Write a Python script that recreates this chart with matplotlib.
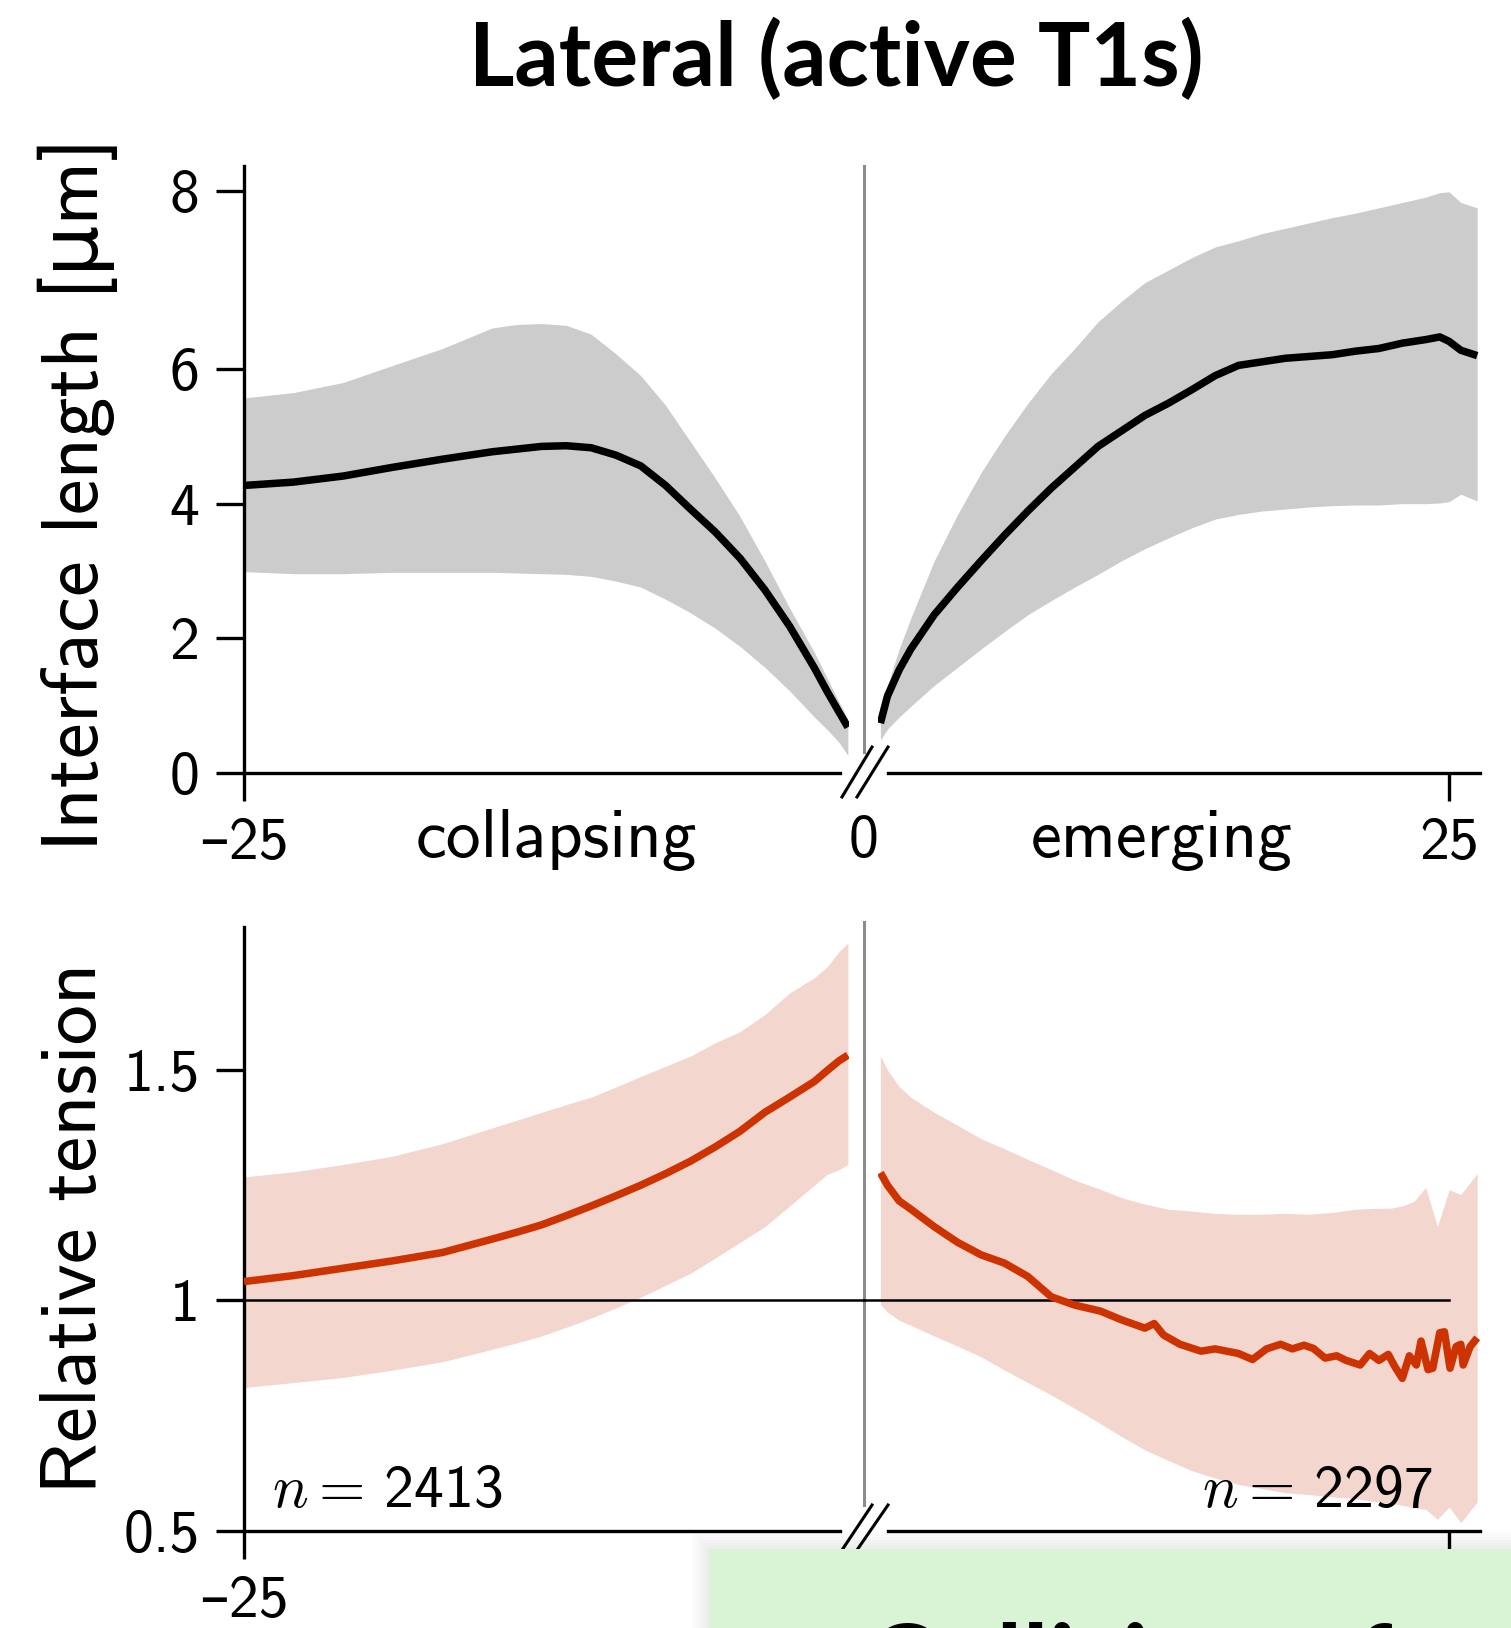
import numpy as np
import matplotlib
matplotlib.use("Agg")
import matplotlib.pyplot as plt
from matplotlib.patches import Rectangle

plt.rcParams["mathtext.fontset"] = "cm"
SANS = ["cmss10", "DejaVu Sans"]

# ---------------- data ----------------
# collapsing interfaces (time before T1, min)
t_collapse = [-25, -23, -21, -19, -17, -15, -14, -13, -12, -11, -10, -9, -8, -7, -6, -5, -4, -3, -2, -1.5, -1, -0.65]
len_collapse_mean = [4.27, 4.32, 4.41, 4.54, 4.66, 4.77, 4.81, 4.85, 4.86, 4.83, 4.72, 4.56, 4.27, 3.92,
                     3.58, 3.19, 2.72, 2.18, 1.56, 1.22, 0.90, 0.68]
len_collapse_hi = [5.57, 5.65, 5.80, 6.04, 6.23, 6.46, 6.50, 6.51, 6.49, 6.39, 6.17, 5.90, 5.46, 4.92,
                   4.38, 3.81, 3.15, 2.45, 1.79, 1.42, 1.05, 0.80]
len_collapse_lo = [2.99, 2.96, 2.96, 2.98, 2.98, 2.98, 2.97, 2.96, 2.95, 2.92, 2.85, 2.76, 2.58, 2.38,
                   2.15, 1.88, 1.57, 1.22, 0.83, 0.65, 0.45, 0.26]

ten_collapse_mean = [1.041, 1.054, 1.070, 1.086, 1.104, 1.133, 1.148, 1.164, 1.184, 1.205, 1.227, 1.250,
                     1.275, 1.302, 1.333, 1.367, 1.408, 1.441, 1.475, 1.498, 1.520, 1.532]
ten_collapse_hi = [1.268, 1.279, 1.295, 1.313, 1.340, 1.374, 1.391, 1.408, 1.425, 1.441, 1.463, 1.486,
                   1.508, 1.530, 1.559, 1.583, 1.620, 1.667, 1.700, 1.723, 1.757, 1.775]
ten_collapse_lo = [0.811, 0.822, 0.833, 0.849, 0.867, 0.894, 0.908, 0.923, 0.942, 0.962, 0.984, 1.007,
                   1.033, 1.059, 1.092, 1.126, 1.160, 1.205, 1.250, 1.273, 1.284, 1.295]

# emerging interfaces (time after T1, min)
t_emerge = [0.7, 1, 1.5, 2, 3, 4, 5, 6, 7, 8, 9, 10, 11, 12, 13, 14, 15, 16, 17, 18, 19, 20,
            21, 22, 23, 24, 24.6, 25, 25.5, 26.2]
len_emerge_mean = [0.74, 1.14, 1.53, 1.84, 2.35, 2.76, 3.15, 3.53, 3.89, 4.23, 4.54, 4.85, 5.08, 5.31,
                   5.49, 5.69, 5.90, 6.04, 6.08, 6.12, 6.14, 6.16, 6.20, 6.23, 6.29, 6.33, 6.36, 6.31, 6.21, 6.15]
len_emerge_hi = [0.91, 1.30, 1.84, 2.30, 3.15, 3.84, 4.46, 5.00, 5.49, 5.93, 6.23, 6.53, 6.76, 6.97,
                 7.11, 7.25, 7.37, 7.44, 7.52, 7.58, 7.64, 7.70, 7.75, 7.81, 7.87, 7.93, 7.98, 7.99, 7.87, 7.81]
len_emerge_lo = [0.49, 0.65, 0.83, 0.99, 1.30, 1.57, 1.84, 2.10, 2.35, 2.56, 2.76, 2.95, 3.15, 3.33,
                 3.49, 3.64, 3.77, 3.84, 3.89, 3.92, 3.95, 3.97, 3.98, 3.98, 4.00, 4.00, 4.01, 4.03, 4.14, 4.04]

t_emerge_ten_band = [0.7, 1, 1.5, 2, 3, 4, 5, 6, 7, 8, 9, 10, 11, 12, 13, 14, 15, 16, 17, 18, 19, 20,
                     21, 22, 22.5, 23, 23.5, 24, 24.5, 25, 25.5, 26.2]
ten_emerge_hi = [1.530, 1.500, 1.464, 1.441, 1.408, 1.380, 1.351, 1.329, 1.306, 1.284, 1.261, 1.243,
                 1.223, 1.209, 1.198, 1.194, 1.189, 1.187, 1.187, 1.189, 1.187, 1.191, 1.198, 1.200,
                 1.200, 1.205, 1.215, 1.245, 1.160, 1.240, 1.230, 1.275]
ten_emerge_lo = [0.991, 0.975, 0.957, 0.946, 0.923, 0.901, 0.878, 0.849, 0.822, 0.795, 0.766, 0.736,
                 0.705, 0.676, 0.653, 0.631, 0.615, 0.601, 0.592, 0.583, 0.579, 0.574, 0.570, 0.563,
                 0.560, 0.556, 0.550, 0.547, 0.525, 0.552, 0.518, 0.563]

t_emerge_ten_mean = [0.7, 1, 1.5, 2, 3, 4, 5, 6, 7, 8, 9, 10.1, 11, 12, 12.4, 12.8, 13.5, 14.4, 15, 15.5,
                     16, 16.6, 17.2, 17.8, 18.3, 18.8, 19.2, 19.7, 20.2, 20.6, 21.2, 21.6, 22.0, 22.4,
                     22.7, 23.0, 23.3, 23.6, 23.8, 24.1, 24.3, 24.6, 24.8, 25.04, 25.3, 25.5, 25.6,
                     25.9, 26.2]
ten_emerge_mean = [1.277, 1.250, 1.216, 1.198, 1.160, 1.126, 1.099, 1.081, 1.052, 1.008, 0.990, 0.977,
                   0.958, 0.940, 0.950, 0.925, 0.905, 0.890, 0.895, 0.890, 0.885, 0.872, 0.895, 0.905,
                   0.895, 0.903, 0.896, 0.875, 0.880, 0.870, 0.860, 0.885, 0.870, 0.883, 0.855, 0.831,
                   0.880, 0.860, 0.912, 0.850, 0.853, 0.930, 0.932, 0.853, 0.900, 0.905, 0.860,
                   0.900, 0.919]

n_collapse = 2413
n_emerge = 2297

len_ticks = [0, 2, 4, 6, 8]
ten_ticks = [0.5, 1, 1.5]
ten_tick_labels = ["0.5", "1", "1.5"]

# ---------------- styling ----------------
GRAY_BAND = "#cccccc"
RED = "#cc3300"
RED_BAND = "#f3d6ce"
DIVIDER = "#8c8c8c"
LW_SPINE = 2.4
LW_MEAN = 5.4
TICK_FS = 43
WORD_FS = 50
LABEL_FS = 58

W, H = 1511, 1628
fig = plt.figure(figsize=(W / 100, H / 100), dpi=100)


def px_box(x0, x1, ytop, ybot):
    return [x0 / W, 1 - ybot / H, (x1 - x0) / W, (ybot - ytop) / H]


ax_tl = fig.add_axes(px_box(244, 849, 166, 773))
ax_tr = fig.add_axes(px_box(878, 1480, 166, 773))
ax_bl = fig.add_axes(px_box(244, 849, 927, 1531))
ax_br = fig.add_axes(px_box(878, 1480, 927, 1531))

# length axis is stretched above 6 µm
K_UP = 1.322


def fwd(y):
    y = np.asarray(y, dtype=float)
    return np.where(y <= 6, y, 6 + (y - 6) * K_UP)


def inv(v):
    v = np.asarray(v, dtype=float)
    return np.where(v <= 6, v, 6 + (v - 6) / K_UP)


for ax in (ax_tl, ax_tr):
    ax.set_yscale("function", functions=(fwd, inv))
    ax.set_ylim(0, 8.28)
for ax in (ax_bl, ax_br):
    ax.set_ylim(0.5, 1.81)
for ax in (ax_tl, ax_bl):
    ax.set_xlim(-25, -0.605)
for ax in (ax_tr, ax_br):
    ax.set_xlim(0.598, 26.32)

for ax in (ax_tl, ax_tr, ax_bl, ax_br):
    ax.patch.set_alpha(0)
    ax.spines["top"].set_visible(False)
    ax.spines["right"].set_visible(False)
    for s in ax.spines.values():
        s.set_linewidth(LW_SPINE)
    ax.tick_params(direction="out", length=20, width=LW_SPINE, pad=12)

MINUS = "\u2013"
for ax in (ax_tr, ax_br):
    ax.spines["left"].set_visible(False)
    ax.set_yticks([])
    ax.spines["bottom"].set_bounds(1.03, 26.32)
    ax.set_xticks([25])
    ax.set_xticklabels(["25"], fontfamily=SANS, fontsize=TICK_FS)
for ax in (ax_tl, ax_bl):
    ax.spines["bottom"].set_bounds(-25, -0.97)
    ax.set_xticks([-25])
    ax.set_xticklabels([MINUS + "25"], fontfamily=SANS, fontsize=TICK_FS)

ax_tl.set_yticks(len_ticks)
ax_tl.set_yticklabels([str(v) for v in len_ticks], fontfamily=SANS, fontsize=TICK_FS)
ax_tl.yaxis.set_minor_locator(matplotlib.ticker.NullLocator())
ax_bl.set_yticks(ten_ticks)
ax_bl.set_yticklabels(ten_tick_labels, fontfamily=SANS, fontsize=TICK_FS)

# ---------------- bands and means ----------------
ax_tl.fill_between(t_collapse, len_collapse_lo, len_collapse_hi, color=GRAY_BAND, lw=0, zorder=1)
ax_tl.plot(t_collapse, len_collapse_mean, color="black", lw=LW_MEAN, zorder=3, solid_capstyle="butt")
ax_tr.fill_between(t_emerge, len_emerge_lo, len_emerge_hi, color=GRAY_BAND, lw=0, zorder=1)
ax_tr.plot(t_emerge, len_emerge_mean, color="black", lw=LW_MEAN, zorder=3, solid_capstyle="butt")

ax_bl.fill_between(t_collapse, ten_collapse_lo, ten_collapse_hi, color=RED_BAND, lw=0, zorder=1)
ax_bl.plot([-25, 0], [1, 1], color="black", lw=1.8, zorder=2, clip_on=False)
ax_bl.plot(t_collapse, ten_collapse_mean, color=RED, lw=LW_MEAN, zorder=3, solid_capstyle="butt")
ax_br.fill_between(t_emerge_ten_band, ten_emerge_lo, ten_emerge_hi, color=RED_BAND, lw=0, zorder=1)
ax_br.plot([0, 25], [1, 1], color="black", lw=1.8, zorder=2, clip_on=False)
ax_br.plot(t_emerge_ten_mean, ten_emerge_mean, color=RED, lw=LW_MEAN, zorder=3, solid_capstyle="butt")

# ---------------- T1 divider and axis breaks ----------------
ax_tl.axvline(0, ymin=0.0346, ymax=1.0, color=DIVIDER, lw=2.2, clip_on=False, zorder=0)
ax_bl.axvline(0, ymin=0.043, ymax=1.008, color=DIVIDER, lw=2.2, clip_on=False, zorder=0)

for ax, (yb, yt) in ((ax_tl, (-0.0395, 0.0428)), (ax_bl, (-0.0315, 0.043))):
    tr = ax.get_xaxis_transform()
    ax.plot([-0.887, 0.323], [yb, yt], color="black", lw=2.2, transform=tr, clip_on=False)
    ax.plot([-0.282, 0.968], [yb, yt], color="black", lw=2.2, transform=tr, clip_on=False)

# ---------------- labels ----------------
tr_l = ax_tl.get_xaxis_transform()
tr_r = ax_tr.get_xaxis_transform()
y_base = (773 - 857) / 607
ax_tl.text(-12.42, y_base, "collapsing", transform=tr_l, ha="center", va="baseline",
           fontfamily=SANS, fontsize=WORD_FS)
ax_tl.text(0, y_base, "0", transform=tr_l, ha="center", va="baseline",
           fontfamily=SANS, fontsize=TICK_FS)
ax_tr.text(12.7, y_base, "emerging", transform=tr_r, ha="center", va="baseline",
           fontfamily=SANS, fontsize=WORD_FS)

ax_bl.text(0.046, 0.04, r"$n=\,$" + str(n_collapse), transform=ax_bl.transAxes,
           ha="left", va="baseline", fontfamily=SANS, fontsize=TICK_FS, zorder=4)
ax_br.text(0.922, 0.04, r"$n=\,$" + str(n_emerge), transform=ax_br.transAxes,
           ha="right", va="baseline", fontfamily=SANS, fontsize=TICK_FS, zorder=4)

fig.text(78 / W, 1 - 494 / H, "Interface length [\u03bcm]", rotation=90, ha="center",
         va="center", fontfamily=SANS, fontsize=LABEL_FS)
fig.text(76 / W, 1 - 1228 / H, "Relative tension", rotation=90, ha="center",
         va="center", fontfamily=SANS, fontsize=LABEL_FS)

fig.text(836 / W, 1 - 59 / H, "Lateral (active T1s)", ha="center", va="center",
         fontfamily=["Lato", "DejaVu Sans"], fontweight="bold", fontsize=63)

# ---------------- caption card overlapping the lower right ----------------
for i in range(6):
    d = 3 * (i + 1)
    fig.patches.append(Rectangle(((709 - d) / W, 0), (W - 709 + d) / W, (H - 1549 + d) / H,
                                 transform=fig.transFigure, facecolor="black",
                                 alpha=0.012, lw=0, zorder=9))
fig.patches.append(Rectangle((709 / W, 0), (W - 709) / W, (H - 1549) / H,
                             transform=fig.transFigure, facecolor="#d9f4d5", lw=0, zorder=10))
fig.text(866 / W, 1 - 1700 / H, "Collision of", ha="left", va="baseline",
         fontfamily=["Lato", "DejaVu Sans"], fontweight="bold", fontsize=76, zorder=11)

fig.savefig("out.png", dpi=100)
